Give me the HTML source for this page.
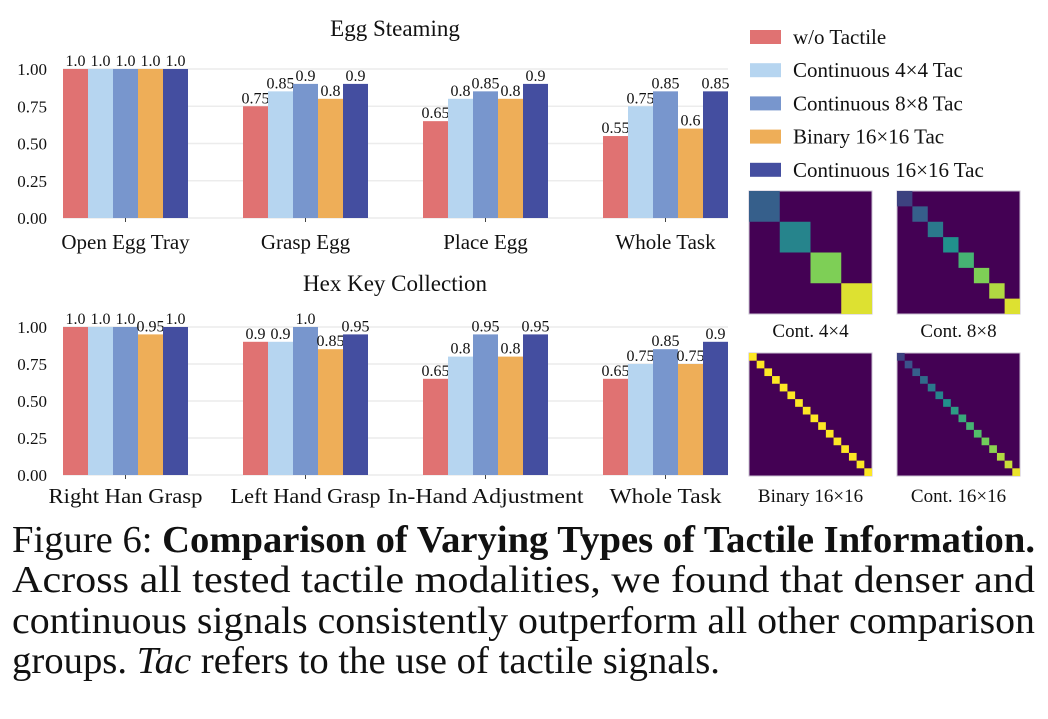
<!DOCTYPE html>
<html><head><meta charset="utf-8"><style>
body{margin:0;background:#fff;width:1048px;height:714px;overflow:hidden}
svg text{font-family:"Liberation Serif",serif;fill:#111}
</style></head><body>
<svg id="fig" width="1048" height="714" xmlns="http://www.w3.org/2000/svg">
<g id="top"></g>
<g id="bot"></g>
<g id="legend"></g>
<g id="heat"></g>
<g font-size="38">
<text x="12" y="552" textLength="1023" lengthAdjust="spacingAndGlyphs">Figure 6: <tspan font-weight="bold">Comparison of Varying Types of Tactile Information.</tspan></text>
<text x="12" y="592" textLength="1023" lengthAdjust="spacingAndGlyphs">Across all tested tactile modalities, we found that denser and</text>
<text x="12" y="633" textLength="1023" lengthAdjust="spacingAndGlyphs">continuous signals consistently outperform all other comparison</text>
<text x="12" y="673" textLength="708" lengthAdjust="spacingAndGlyphs">groups. <tspan font-style="italic">Tac</tspan> refers to the use of tactile signals.</text>
</g>
</svg>
<script>
const seriesNames=["w/o Tactile","Continuous 4×4 Tac","Continuous 8×8 Tac","Binary 16×16 Tac","Continuous 16×16 Tac"];
const colors=["#e07272","#b6d5f0","#7896cd","#eeae58","#444ea0"];
const eggCats=["Open Egg Tray","Grasp Egg","Place Egg","Whole Task"];
const eggVals=[[1.0,1.0,1.0,1.0,1.0],[0.75,0.85,0.9,0.8,0.9],[0.65,0.8,0.85,0.8,0.9],[0.55,0.75,0.85,0.6,0.85]];
const eggLabels=[["1.0","1.0","1.0","1.0","1.0"],["0.75","0.85","0.9","0.8","0.9"],["0.65","0.8","0.85","0.8","0.9"],["0.55","0.75","0.85","0.6","0.85"]];
const hexCats=["Right Han Grasp","Left Hand Grasp","In-Hand Adjustment","Whole Task"];
const hexVals=[[1.0,1.0,1.0,0.95,1.0],[0.9,0.9,1.0,0.85,0.95],[0.65,0.8,0.95,0.8,0.95],[0.65,0.75,0.85,0.75,0.9]];
const hexLabels=[["1.0","1.0","1.0","0.95","1.0"],["0.9","0.9","1.0","0.85","0.95"],["0.65","0.8","0.95","0.8","0.95"],["0.65","0.75","0.85","0.75","0.9"]];
const yTicks=[0,0.25,0.5,0.75,1.0];
const yTickLabels=["0.00","0.25","0.50","0.75","1.00"];
const heat4=[0.3,0.45,0.8,0.95];
const heat8=[0.2,0.3,0.4,0.5,0.65,0.8,0.88,0.95];
const heatBin=[1,1,1,1,1,1,1,1,1,1,1,1,1,1,1,1];
const heat16=[0.2,0.25,0.3,0.35,0.4,0.45,0.5,0.55,0.6,0.65,0.7,0.78,0.82,0.88,0.92,0.97];
const NS="http://www.w3.org/2000/svg";
function mk(p,t,a){const e=document.createElementNS(NS,t);for(const k in a)e.setAttribute(k,a[k]);p.appendChild(e);return e;}
function chart(g,cats,vals,labs,o){
  const y=v=>o.y0-(o.y0-o.y1)*v;
  const gx=i=>o.x0+i*o.gap;
  yTicks.forEach((t,i)=>{
    const l=mk(g,'line',{x1:o.x0,x2:o.x0+3*o.gap+o.gw,y1:y(t),y2:y(t),stroke:'#ececec','stroke-width':1.5});
    
    const tx=mk(g,'text',{x:o.tickX,y:y(t)+6,'text-anchor':'end','font-size':o.tf});tx.textContent=yTickLabels[i];
    
  });
  const bw=o.gw/5;
  cats.forEach((c,i)=>{
    vals[i].forEach((v,j)=>{
      const r=mk(g,'rect',{x:gx(i)+j*bw,y:y(v),width:bw,height:y(0)-y(v),fill:colors[j]});
      
      const t=mk(g,'text',{x:gx(i)+j*bw+bw/2,y:y(v)-3,'text-anchor':'middle','font-size':o.vf});t.textContent=labs[i][j];
      
    });
    mk(g,'line',{x1:gx(i)+o.gw/2,x2:gx(i)+o.gw/2,y1:y(0),y2:y(0)+4,stroke:'#444'});
    const t=mk(g,'text',{x:gx(i)+o.gw/2,y:o.catY,'text-anchor':'middle','font-size':o.cf});t.textContent=c;
    if(o.catLen)t.setAttribute('textLength',o.catLen[i]),t.setAttribute('lengthAdjust','spacingAndGlyphs');
    
  });
  const tt=mk(g,'text',{x:o.titleX,y:o.titleY,'text-anchor':'middle','font-size':23});tt.textContent=o.title;
  
}
chart(document.getElementById('top'),eggCats,eggVals,eggLabels,{x0:63,gap:180,gw:125,y0:218,y1:69,tickX:47,tf:17,vf:16,cf:21,catY:249,title:"Egg Steaming",titleX:395,titleY:36});
chart(document.getElementById('bot'),hexCats,hexVals,hexLabels,{x0:63,gap:180,gw:125,y0:475,y1:327,tickX:47,tf:17,vf:16,cf:21,catY:503,catLen:[154,150,196,112],title:"Hex Key Collection",titleX:395,titleY:291});
const lg=document.getElementById('legend');
seriesNames.forEach((n,i)=>{
  const cy=37+i*33.2;
  const r=mk(lg,'rect',{x:750,y:cy-7,width:31,height:14,fill:colors[i]});
  
  const t=mk(lg,'text',{x:793,y:cy+7,'font-size':21});t.textContent=n;
  
});
function viridis(v){const s=[[68,1,84],[59,82,139],[33,145,140],[94,201,98],[253,231,37]];
  const p=Math.max(0,Math.min(1,v))*4,i=Math.min(3,Math.floor(p)),f=p-i;
  return 'rgb('+s[i].map((c,k)=>Math.round(c+(s[i+1][k]-c)*f)).join(',')+')';}
const hg=document.getElementById('heat');
function heat(diag,x,y,sz,label,ly){
  const r=mk(hg,'rect',{x:x,y:y,width:sz,height:sz,fill:'#440154',stroke:'#c8c0d0','stroke-width':1});
  
  const c=sz/diag.length;
  diag.forEach((v,i)=>{const q=mk(hg,'rect',{x:x+i*c,y:y+i*c,width:c,height:c,fill:viridis(v)});
    });
  const t=mk(hg,'text',{x:x+sz/2,y:ly,'text-anchor':'middle','font-size':19});t.textContent=label;
  
}
heat(heat4,749,191,123,"Cont. 4×4",337);
heat(heat8,897,191,123,"Cont. 8×8",337);
heat(heatBin,749,353,123,"Binary 16×16",502);
heat(heat16,897,353,123,"Cont. 16×16",502);
</script>
</body></html>
